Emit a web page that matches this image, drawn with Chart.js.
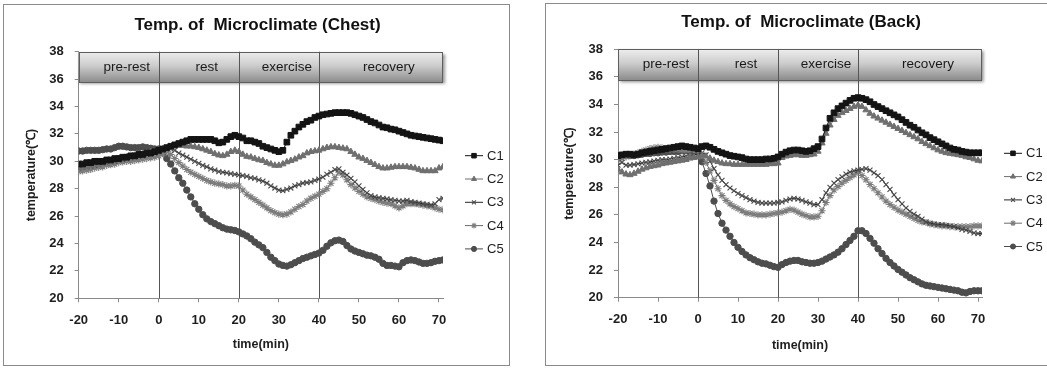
<!DOCTYPE html>
<html>
<head>
<meta charset="utf-8">
<script src="https://cdn.jsdelivr.net/npm/chart.js@4"></script>
<style>
  body { margin: 0; background: #fff; width: 1047px; height: 368px; overflow: hidden; position: relative; }
  .panel { position: absolute; border: 1px solid #8a8a8a; box-sizing: border-box; background: #fff; }
  #panelPecho { left: 3px; top: 4px; width: 507px; height: 362px; }
  #panelEspalda { left: 545px; top: 3px; width: 510px; height: 363px; }
  .panel canvas { position: absolute; left: 0; top: 0; }
</style>
</head>
<body>
<div class="panel" id="panelPecho"><canvas id="graficoPecho" width="505" height="360"></canvas></div>
<div class="panel" id="panelEspalda"><canvas id="graficoEspalda" width="508" height="361"></canvas></div>

<script>
// Tiempo (min), una medición por minuto
const tiempos = [
  -20, -19, -18, -17, -16, -15, -14, -13, -12, -11,
  -10, -9, -8, -7, -6, -5, -4, -3, -2, -1,
  0, 1, 2, 3, 4, 5, 6, 7, 8, 9,
  10, 11, 12, 13, 14, 15, 16, 17, 18, 19,
  20, 21, 22, 23, 24, 25, 26, 27, 28, 29,
  30, 31, 32, 33, 34, 35, 36, 37, 38, 39,
  40, 41, 42, 43, 44, 45, 46, 47, 48, 49,
  50, 51, 52, 53, 54, 55, 56, 57, 58, 59,
  60, 61, 62, 63, 64, 65, 66, 67, 68, 69,
  70, 71
];

const series = ['C1', 'C2', 'C3', 'C4', 'C5'];
const fases = ['pre-rest', 'rest', 'exercise', 'recovery'];
const limitesFase = [-20, 0, 20, 40, 71];
const ticksX = [-20, -10, 0, 10, 20, 30, 40, 50, 60, 70];
const ticksY = [20, 22, 24, 26, 28, 30, 32, 34, 36, 38];

// Pecho
const pechoC1 = [
  29.8, 29.8, 29.9, 29.9, 30.0, 30.0, 30.0, 30.1, 30.1, 30.2,
  30.2, 30.3, 30.3, 30.4, 30.4, 30.5, 30.5, 30.6, 30.6, 30.7,
  30.8, 30.9, 31.0, 31.1, 31.2, 31.3, 31.4, 31.5, 31.6, 31.6,
  31.6, 31.6, 31.6, 31.6, 31.5, 31.35, 31.4, 31.6, 31.8, 31.9,
  31.8, 31.7, 31.5, 31.5, 31.4, 31.3, 31.1, 31.0, 30.9, 30.8,
  30.7, 30.8, 31.4, 31.9, 32.2, 32.5, 32.7, 32.9, 33.0, 33.2,
  33.3, 33.4, 33.45, 33.5, 33.55, 33.55, 33.55, 33.55, 33.5, 33.4,
  33.3, 33.2, 33.05, 32.9, 32.8, 32.65, 32.5, 32.45, 32.35, 32.3,
  32.2, 32.1, 32.0, 31.9, 31.85, 31.8, 31.75, 31.7, 31.65, 31.6,
  31.55, 31.5
];
const pechoC2 = [
  29.5, 29.55, 29.6, 29.7, 29.75, 29.8, 29.85, 29.9, 30.0, 30.1,
  30.2, 30.2, 30.3, 30.3, 30.4, 30.5, 30.5, 30.6, 30.7, 30.7,
  30.8, 30.9, 30.95, 31.0, 31.1, 31.15, 31.15, 31.1, 31.1, 31.05,
  31.0, 30.9, 30.8, 30.7, 30.55, 30.45, 30.4, 30.5, 30.7, 30.8,
  30.7, 30.5, 30.35, 30.3, 30.2, 30.1, 30.05, 29.9, 29.8, 29.7,
  29.7, 29.8, 29.95, 30.05, 30.15, 30.3, 30.4, 30.6, 30.7, 30.75,
  30.8, 30.9, 31.0, 31.05, 31.05, 31.0, 30.95, 30.9, 30.7, 30.5,
  30.3, 30.2, 30.05, 29.9, 29.75, 29.6, 29.5, 29.5, 29.55, 29.6,
  29.6, 29.6, 29.6, 29.55, 29.5, 29.4, 29.3, 29.3, 29.3, 29.3,
  29.5, 29.6
];
const pechoC3 = [
  29.5, 29.55, 29.6, 29.65, 29.7, 29.8, 29.85, 29.9, 29.95, 30.0,
  30.1, 30.1, 30.2, 30.25, 30.3, 30.35, 30.4, 30.5, 30.55, 30.6,
  30.7, 30.8, 30.9, 30.9, 30.8, 30.6, 30.45, 30.3, 30.15, 30.0,
  29.85, 29.7, 29.6, 29.45, 29.35, 29.25, 29.2, 29.15, 29.1, 29.05,
  29.0, 28.95, 28.9, 28.8, 28.75, 28.65, 28.55, 28.4, 28.2, 28.05,
  27.9, 27.85, 27.95, 28.05, 28.2, 28.3, 28.4, 28.45, 28.5, 28.6,
  28.7, 28.85, 29.05, 29.2, 29.4, 29.45, 29.2, 29.0, 28.75, 28.5,
  28.2, 27.95, 27.7, 27.5, 27.4, 27.35, 27.3, 27.25, 27.2, 27.15,
  27.1, 27.1, 27.15, 27.05, 27.0, 26.95, 26.9, 26.85, 26.8, 26.9,
  27.2, 27.3
];
const pechoC4 = [
  29.25, 29.3, 29.35, 29.4, 29.5, 29.55, 29.6, 29.7, 29.75, 29.8,
  29.9, 29.95, 30.0, 30.0, 30.05, 30.1, 30.15, 30.2, 30.25, 30.3,
  30.4, 30.55, 30.7, 30.5, 30.2, 29.9, 29.65, 29.4, 29.2, 29.05,
  28.9, 28.75, 28.6, 28.5, 28.4, 28.35, 28.3, 28.2, 28.2, 28.25,
  28.2, 27.9, 27.6, 27.4, 27.2, 27.0, 26.8, 26.6, 26.4, 26.25,
  26.15, 26.1, 26.15, 26.3, 26.5, 26.7, 26.85, 27.1, 27.3, 27.45,
  27.6, 27.8, 28.0, 28.4, 28.8, 29.2, 29.0, 28.65, 28.3, 28.05,
  27.8, 27.6, 27.4, 27.3, 27.2, 27.1, 27.0, 26.95, 26.9, 26.75,
  26.6, 26.75, 26.9, 26.9, 26.9, 26.85, 26.8, 26.75, 26.7, 26.6,
  26.5, 26.45
];
const pechoC5 = [
  30.75, 30.75, 30.8, 30.8, 30.8, 30.8, 30.85, 30.9, 30.9, 31.0,
  31.1, 31.1, 31.05, 31.0, 31.0, 31.0, 31.05, 31.0, 30.95, 30.9,
  30.9, 30.6, 30.2, 29.8, 29.3, 28.8, 28.4, 27.9, 27.4, 26.9,
  26.5, 26.1, 25.8, 25.6, 25.45, 25.3, 25.15, 25.05, 25.0, 24.95,
  24.85, 24.7, 24.55, 24.35, 24.1, 23.9, 23.7, 23.35, 23.0, 22.75,
  22.5, 22.4, 22.35, 22.45, 22.6, 22.75, 22.9, 23.0, 23.1, 23.2,
  23.3, 23.5, 23.8, 24.05, 24.2, 24.25, 24.15, 23.85, 23.6, 23.45,
  23.35, 23.25, 23.15, 23.1, 23.0, 22.85, 22.55, 22.4, 22.4, 22.35,
  22.3, 22.6, 22.75, 22.8, 22.75, 22.65, 22.55, 22.55, 22.6, 22.7,
  22.75, 22.8
];

// Espalda
const espaldaC1 = [
  30.3, 30.35, 30.4, 30.4, 30.35, 30.4, 30.5, 30.55, 30.6, 30.65,
  30.7, 30.75, 30.8, 30.85, 30.9, 30.95, 31.0, 30.95, 30.9, 30.85,
  30.8, 30.95, 31.0, 30.9, 30.75, 30.6, 30.5, 30.4, 30.3, 30.25,
  30.2, 30.15, 30.05, 30.0, 30.0, 30.0, 30.0, 30.05, 30.05, 30.1,
  30.2, 30.4, 30.55, 30.65, 30.7, 30.7, 30.65, 30.6, 30.65, 30.8,
  30.95, 31.5, 32.3, 33.0, 33.4, 33.7, 33.9, 34.1, 34.3, 34.45,
  34.5, 34.45, 34.35, 34.2, 34.0, 33.85, 33.7, 33.55, 33.4, 33.25,
  33.1, 32.9, 32.7, 32.5, 32.35, 32.15, 31.95, 31.8, 31.6, 31.45,
  31.3, 31.15, 31.0, 30.85, 30.75, 30.7, 30.6, 30.55, 30.5, 30.5,
  30.5, 30.5
];
const espaldaC2 = [
  29.3, 29.1, 28.95, 28.9, 29.0, 29.15, 29.3, 29.4, 29.5, 29.55,
  29.6, 29.7, 29.75, 29.8, 29.85, 29.9, 29.95, 30.0, 30.1, 30.15,
  30.2, 30.3, 30.25, 30.1, 29.95, 29.85, 29.75, 29.7, 29.7, 29.65,
  29.65, 29.65, 29.65, 29.65, 29.65, 29.65, 29.65, 29.65, 29.7, 29.7,
  29.75, 30.15, 30.25, 30.3, 30.35, 30.35, 30.3, 30.3, 30.35, 30.4,
  30.6, 31.2, 31.9, 32.5, 32.9, 33.2, 33.4, 33.55, 33.7, 33.85,
  33.95, 33.85, 33.6, 33.35, 33.15, 33.0, 32.85, 32.7, 32.55, 32.4,
  32.25, 32.1, 31.95, 31.8, 31.65, 31.5, 31.3, 31.15, 31.0, 30.85,
  30.7, 30.6, 30.5, 30.45, 30.4, 30.35, 30.3, 30.2, 30.15, 30.05,
  29.95, 29.9
];
const espaldaC3 = [
  29.6, 29.8, 29.6, 29.6, 29.65, 29.7, 29.75, 29.8, 29.85, 29.9,
  29.95, 30.0, 30.0, 30.05, 30.1, 30.15, 30.2, 30.25, 30.3, 30.35,
  30.4, 30.5, 30.35, 29.9, 29.35, 28.9, 28.5, 28.2, 27.95, 27.75,
  27.55, 27.4, 27.25, 27.1, 27.0, 26.9, 26.85, 26.85, 26.85, 26.85,
  26.9, 26.95, 27.05, 27.15, 27.2, 27.15, 27.05, 26.95, 26.85, 26.75,
  26.75, 27.1, 27.6, 28.0, 28.3, 28.55, 28.75, 28.95, 29.1, 29.2,
  29.25, 29.3, 29.35, 29.25, 29.05, 28.85, 28.55, 28.2, 27.85, 27.45,
  27.1, 26.8, 26.5, 26.25, 26.05, 25.9, 25.7, 25.5, 25.4, 25.35,
  25.3, 25.3, 25.25, 25.2, 25.15, 25.05, 24.95, 24.9, 24.8, 24.7,
  24.65, 24.65
];
const espaldaC4 = [
  30.0, 30.1, 30.2, 30.3, 30.4, 30.5, 30.6, 30.7, 30.8, 30.85,
  30.9, 30.85, 30.8, 30.75, 30.75, 30.75, 30.7, 30.7, 30.7, 30.65,
  30.6, 30.3, 29.8, 29.2, 28.5, 27.9, 27.4, 27.05, 26.8, 26.6,
  26.45, 26.3, 26.15, 26.1, 26.05, 26.0, 26.0, 26.0, 26.05, 26.1,
  26.15, 26.2, 26.3, 26.4, 26.35, 26.2, 26.05, 25.95, 25.85, 25.85,
  25.9, 26.3, 26.9, 27.4, 27.8, 28.05, 28.3, 28.5, 28.7, 28.9,
  29.1, 28.85, 28.55, 28.2, 27.9, 27.6, 27.3, 27.0, 26.75, 26.55,
  26.35, 26.2, 26.05, 25.9, 25.75, 25.6, 25.5, 25.45, 25.35, 25.3,
  25.25, 25.2, 25.2, 25.15, 25.15, 25.15, 25.15, 25.15, 25.15, 25.2,
  25.2, 25.2
];
const espaldaC5 = [
  30.2, 30.25, 30.3, 30.3, 30.3, 30.35, 30.4, 30.45, 30.45, 30.5,
  30.5, 30.55, 30.55, 30.6, 30.6, 30.6, 30.65, 30.65, 30.65, 30.6,
  30.6, 29.85, 29.0, 28.1, 27.0, 26.1, 25.4, 24.9, 24.45, 24.0,
  23.65, 23.35, 23.1, 22.9, 22.75, 22.6, 22.5, 22.45, 22.35, 22.25,
  22.2, 22.4, 22.55, 22.65, 22.7, 22.7, 22.6, 22.55, 22.5, 22.5,
  22.55, 22.65, 22.8, 22.95, 23.1, 23.3, 23.55, 23.85, 24.15, 24.45,
  24.85, 24.85, 24.65, 24.3, 23.95, 23.55, 23.2, 22.85, 22.55, 22.3,
  22.05, 21.85, 21.65, 21.45, 21.3, 21.15, 21.0, 20.9, 20.85, 20.8,
  20.75, 20.7, 20.65, 20.6, 20.55, 20.5, 20.4, 20.35, 20.45, 20.5,
  20.5, 20.5
];

// Estilo de cada serie (marcador tipo Excel en escala de grises)
const estilos = [
  { punto: 'rect', radio: 4.0, color: '#141414', linea: '#141414', grosor: 1 },
  { punto: 'triangle', radio: 3.6, color: '#6f6f6f', linea: '#6f6f6f', grosor: 1 },
  { punto: 'crossRot', radio: 3.5, color: '#4a4a4a', linea: '#262626', grosor: 1.1 },
  { punto: 'star', radio: 3.6, color: '#7c7c7c', linea: '#6c6c6c', grosor: 1.1 },
  { punto: 'circle', radio: 3.2, color: '#4d4d4d', linea: '#4d4d4d', grosor: 1 }
];

const FUENTE = "'Liberation Sans', Arial, sans-serif";
const BANDA_INFERIOR = 35.78;
Chart.defaults.font.family = FUENTE;

// Título centrado sobre todo el lienzo (no sobre el área sin leyenda)
const tituloPlugin = {
  id: 'tituloCentrado',
  afterDraw(chart, args, opts) {
    const { ctx, width } = chart;
    ctx.save();
    ctx.fillStyle = '#111';
    ctx.font = 'bold 17px ' + FUENTE;
    ctx.textAlign = 'center';
    ctx.textBaseline = 'middle';
    ctx.fillText(opts.texto, width / 2 + 1, opts.y);
    ctx.restore();
  }
};

// Banda de fases + líneas verticales de separación
const fasesPlugin = {
  id: 'fases',
  beforeDatasetsDraw(chart) {
    const { ctx, chartArea, scales: { x, y } } = chart;
    const arriba = y.getPixelForValue(ticksY[ticksY.length - 1]);
    const abajo = y.getPixelForValue(BANDA_INFERIOR);
    const x0 = x.getPixelForValue(limitesFase[0]);
    const x1 = x.getPixelForValue(limitesFase[limitesFase.length - 1]);

    ctx.save();
    ctx.shadowColor = 'rgba(0,0,0,0.45)';
    ctx.shadowBlur = 3;
    ctx.shadowOffsetX = 1.5;
    ctx.shadowOffsetY = 2;
    const grad = ctx.createLinearGradient(0, arriba, 0, abajo);
    grad.addColorStop(0, '#ededed');
    grad.addColorStop(0.45, '#cdcdcd');
    grad.addColorStop(1, '#8c8c8c');
    ctx.fillStyle = grad;
    ctx.fillRect(x0, arriba, x1 - x0, abajo - arriba);
    ctx.restore();

    ctx.save();
    ctx.strokeStyle = '#5e5e5e';
    ctx.lineWidth = 1;
    ctx.strokeRect(Math.round(x0) + 0.5, Math.round(arriba) + 0.5, Math.round(x1 - x0) - 1, Math.round(abajo - arriba));

    // separadores que bajan hasta el eje x
    ctx.strokeStyle = '#555';
    limitesFase.slice(1, -1).forEach(t => {
      const px = Math.round(x.getPixelForValue(t)) + 0.5;
      ctx.beginPath();
      ctx.moveTo(px, arriba);
      ctx.lineTo(px, chartArea.bottom);
      ctx.stroke();
    });

    ctx.fillStyle = '#1a1a1a';
    ctx.font = '13.5px ' + FUENTE;
    ctx.textAlign = 'center';
    ctx.textBaseline = 'middle';
    fases.forEach((nombre, i) => {
      const a = x.getPixelForValue(limitesFase[i]);
      const b = x.getPixelForValue(limitesFase[i + 1]);
      ctx.fillText(nombre, (a + b) / 2 + 8, (arriba + abajo) / 2);
    });
    ctx.restore();
  }
};

// Leyenda a la derecha: línea + marcador + nombre
const leyendaPlugin = {
  id: 'leyendaLateral',
  afterDraw(chart, args, opts) {
    const { ctx, chartArea } = chart;
    chart.data.datasets.forEach((ds, i) => {
      const yy = chartArea.top + opts.inicioY + i * opts.paso;
      const x0 = chartArea.right + opts.margen;
      const x1 = x0 + opts.largo;
      ctx.save();
      ctx.strokeStyle = ds.borderColor;
      ctx.lineWidth = 1;
      ctx.beginPath();
      ctx.moveTo(x0, yy);
      ctx.lineTo(x1, yy);
      ctx.stroke();

      ctx.fillStyle = ds.pointBackgroundColor;
      ctx.strokeStyle = ds.pointBorderColor;
      ctx.lineWidth = ds.pointBorderWidth;
      if (Chart.helpers && Chart.helpers.drawPoint) {
        Chart.helpers.drawPoint(ctx, {
          pointStyle: ds.pointStyle, radius: ds.pointRadius * 0.8,
          borderWidth: ds.pointBorderWidth, rotation: 0
        }, (x0 + x1) / 2, yy);
      } else {
        ctx.fillRect((x0 + x1) / 2 - 2, yy - 2, 4, 4);
      }

      ctx.fillStyle = '#1e1e1e';
      ctx.font = '13px ' + FUENTE;
      ctx.textAlign = 'left';
      ctx.textBaseline = 'middle';
      ctx.fillText(ds.label, x1 + 4, yy + 0.5);
      ctx.restore();
    });
  }
};

function crearGrafico(idCanvas, titulo, valores, geo) {
  const datasets = series.map((nombre, i) => ({
    label: nombre,
    data: tiempos.map((t, j) => ({ x: t, y: valores[i][j] })),
    borderColor: estilos[i].linea,
    borderWidth: 1,
    backgroundColor: estilos[i].color,
    pointStyle: estilos[i].punto,
    pointRadius: estilos[i].radio,
    pointBackgroundColor: estilos[i].color,
    pointBorderColor: estilos[i].color,
    pointBorderWidth: estilos[i].grosor,
    tension: 0
  }));

  return new Chart(document.getElementById(idCanvas), {
    type: 'line',
    data: { datasets },
    plugins: [fasesPlugin, leyendaPlugin, tituloPlugin],
    options: {
      responsive: false,
      animation: false,
      events: [],
      layout: { padding: { left: 0, top: geo.arriba, bottom: 0, right: geo.derecha } },
      plugins: {
        legend: { display: false },
        tooltip: { enabled: false },
        title: { display: false },
        tituloCentrado: { texto: titulo, y: geo.tituloY0 },
        leyendaLateral: { margen: 22, inicioY: 104, paso: 23.3, largo: 18 }
      },
      scales: {
        x: {
          type: 'linear',
          min: limitesFase[0],
          max: limitesFase[limitesFase.length - 1],
          afterBuildTicks: s => { s.ticks = ticksX.map(v => ({ value: v })); },
          afterFit: s => { s.height = geo.altoX; },
          ticks: { color: '#1e1e1e', font: { size: 13, weight: 'bold' }, padding: 10, maxRotation: 0 },
          grid: { drawOnChartArea: false, drawTicks: true, tickLength: 4, color: '#8a8a8a' },
          border: { color: '#8a8a8a' },
          title: {
            display: true, text: 'time(min)', color: '#1e1e1e',
            font: { size: 12.5, weight: 'bold' },
            padding: { top: 0, bottom: geo.tituloX }
          }
        },
        y: {
          min: ticksY[0],
          max: ticksY[ticksY.length - 1],
          afterBuildTicks: s => { s.ticks = ticksY.map(v => ({ value: v })); },
          afterFit: s => { s.width = geo.anchoY; },
          ticks: { color: '#1e1e1e', font: { size: 13, weight: 'bold' }, padding: 11 },
          grid: { drawOnChartArea: false, drawTicks: true, tickLength: 4, color: '#8a8a8a' },
          border: { color: '#8a8a8a' },
          title: {
            display: true, text: 'temperature(℃)', color: '#1e1e1e',
            font: { size: 12.5, weight: 'bold' },
            padding: { top: geo.tituloY, bottom: 0 }
          }
        }
      }
    }
  });
}

crearGrafico('graficoPecho', 'Temp. of  Microclimate (Chest)',
  [pechoC1, pechoC2, pechoC3, pechoC4, pechoC5],
  { arriba: 46.7, derecha: 66, anchoY: 74.7, altoX: 66.7, tituloY0: 20, tituloX: 12.5, tituloY: 20.5 });

crearGrafico('graficoEspalda', 'Temp. of  Microclimate (Back)',
  [espaldaC1, espaldaC2, espaldaC3, espaldaC4, espaldaC5],
  { arriba: 45.3, derecha: 72, anchoY: 72, altoX: 67.3, tituloY0: 18, tituloX: 11.5, tituloY: 16.5 });
</script>
</body>
</html>
